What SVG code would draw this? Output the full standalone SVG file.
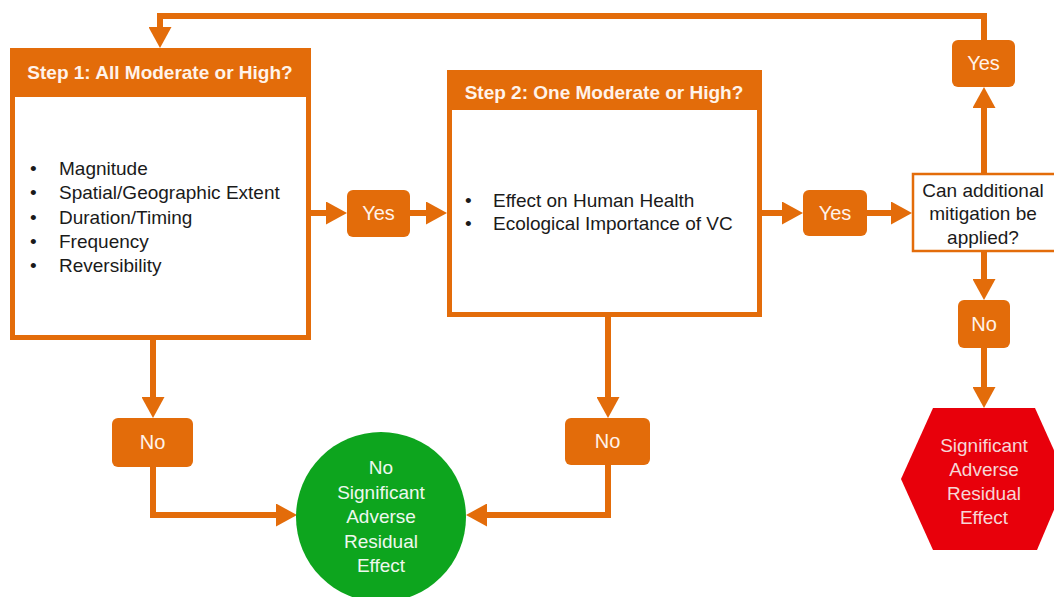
<svg xmlns="http://www.w3.org/2000/svg" width="1054" height="597" viewBox="0 0 1054 597">
<style>
.con{fill:none;stroke:#E36C0A;stroke-width:6;stroke-linejoin:miter}
.lbl{fill:#E36C0A}
.lt{font-family:"Liberation Sans",Arial,sans-serif;font-size:20px;fill:#fff3ea;text-anchor:middle}
.hd{font-family:"Liberation Sans",Arial,sans-serif;font-size:19px;font-weight:bold;fill:#fff3ea;text-anchor:middle}
.bt{font-family:"Liberation Sans",Arial,sans-serif;font-size:19px;fill:#1a1a1a}
.mt{font-family:"Liberation Sans",Arial,sans-serif;font-size:19px;fill:#1a1a1a;text-anchor:middle}
.wt{font-family:"Liberation Sans",Arial,sans-serif;font-size:19px;text-anchor:middle}
</style>
<defs>
<marker id="ah" markerUnits="userSpaceOnUse" viewBox="0 0 21 23" refX="0" refY="11.5" markerWidth="21" markerHeight="23" orient="auto">
<path d="M0,0 L21,11.5 L0,23 Z" fill="#E36C0A"/>
</marker>
</defs>
<rect width="1054" height="597" fill="#ffffff"/>
<g id="connectors">
<path class="con" d="M984,40 V16 H160 V27" marker-end="url(#ah)"/>
<path class="con" d="M984,174 V108" marker-end="url(#ah)"/>
<path class="con" d="M311,213 H326" marker-end="url(#ah)"/>
<path class="con" d="M410,213 H426" marker-end="url(#ah)"/>
<path class="con" d="M762,213 H782" marker-end="url(#ah)"/>
<path class="con" d="M867,213 H891" marker-end="url(#ah)"/>
<path class="con" d="M984,252 V279" marker-end="url(#ah)"/>
<path class="con" d="M984,348 V387" marker-end="url(#ah)"/>
<path class="con" d="M153,340 V397" marker-end="url(#ah)"/>
<path class="con" d="M153,467 V515 H276" marker-end="url(#ah)"/>
<path class="con" d="M608,317 V397" marker-end="url(#ah)"/>
<path class="con" d="M608,465 V515 H487" marker-end="url(#ah)"/>
</g>
<g id="step1">
<rect x="12.5" y="50.5" width="296" height="287" fill="#ffffff" stroke="#E36C0A" stroke-width="5"/>
<rect x="10" y="48" width="301" height="49" fill="#E36C0A"/>
<text class="hd" x="160" y="79">Step 1: All Moderate or High?</text>
<text class="bt" x="30" y="175">•</text><text class="bt" x="59" y="175">Magnitude</text>
<text class="bt" x="30" y="199">•</text><text class="bt" x="59" y="199">Spatial/Geographic  Extent</text>
<text class="bt" x="30" y="224">•</text><text class="bt" x="59" y="224">Duration/Timing</text>
<text class="bt" x="30" y="248">•</text><text class="bt" x="59" y="248">Frequency</text>
<text class="bt" x="30" y="272">•</text><text class="bt" x="59" y="272">Reversibility</text>
</g>
<g id="yes1">
<rect class="lbl" x="347" y="190" width="63" height="47" rx="6"/>
<text class="lt" x="378.5" y="220">Yes</text>
</g>
<g id="step2">
<rect x="449.5" y="72.5" width="310" height="242" fill="#ffffff" stroke="#E36C0A" stroke-width="5"/>
<rect x="447" y="70" width="315" height="40" fill="#E36C0A"/>
<text class="hd" x="604" y="99">Step 2: One Moderate or High?</text>
<text class="bt" x="465" y="207">•</text><text class="bt" x="493" y="207">Effect on Human  Health</text>
<text class="bt" x="465" y="230">•</text><text class="bt" x="493" y="230">Ecological Importance  of VC</text>
</g>
<g id="yes2">
<rect class="lbl" x="803" y="190" width="64" height="46" rx="6"/>
<text class="lt" x="835" y="220">Yes</text>
</g>
<g id="mitigation">
<rect x="913" y="174" width="150" height="77" fill="#ffffff" stroke="#E36C0A" stroke-width="2.5"/>
<text class="mt" x="983" y="197">Can additional</text>
<text class="mt" x="983" y="220">mitigation be</text>
<text class="mt" x="983" y="244">applied?</text>
</g>
<g id="yes3">
<rect class="lbl" x="952" y="40" width="63" height="47" rx="6"/>
<text class="lt" x="983.5" y="70">Yes</text>
</g>
<g id="no3">
<rect class="lbl" x="958" y="300" width="52" height="48" rx="6"/>
<text class="lt" x="984" y="331">No</text>
</g>
<g id="no1">
<rect class="lbl" x="112" y="418" width="81" height="49" rx="6"/>
<text class="lt" x="152.5" y="449">No</text>
</g>
<g id="no2">
<rect class="lbl" x="565" y="418" width="85" height="47" rx="6"/>
<text class="lt" x="607.5" y="448">No</text>
</g>
<g id="no-significant">
<circle cx="381" cy="517" r="85" fill="#0DA51E"/>
<text class="wt" x="381" y="474" fill="#eef8ee">No</text>
<text class="wt" x="381" y="499" fill="#eef8ee">Significant</text>
<text class="wt" x="381" y="523" fill="#eef8ee">Adverse</text>
<text class="wt" x="381" y="548" fill="#eef8ee">Residual</text>
<text class="wt" x="381" y="572" fill="#eef8ee">Effect</text>
</g>
<g id="significant">
<polygon points="933,408 1035,408 1067,479 1037,550 933,550 901,479" fill="#E8000B"/>
<text class="wt" x="984" y="452" fill="#f6d6d6">Significant</text>
<text class="wt" x="984" y="476" fill="#f6d6d6">Adverse</text>
<text class="wt" x="984" y="500" fill="#f6d6d6">Residual</text>
<text class="wt" x="984" y="524" fill="#f6d6d6">Effect</text>
</g>
</svg>
